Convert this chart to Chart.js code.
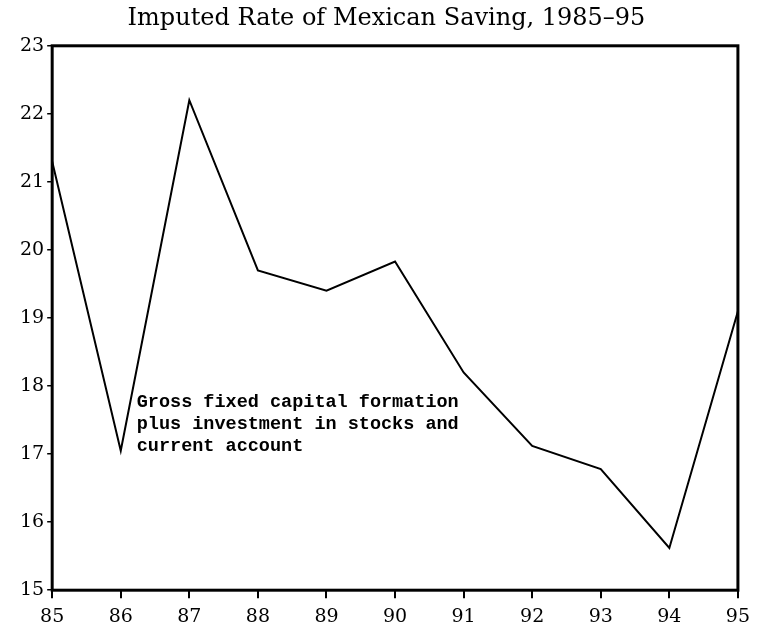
<!DOCTYPE html>
<html lang="en">
<head>
    <meta charset="UTF-8">
    <title>Imputed Rate of Mexican Saving, 1985-95</title>
    <script src="https://cdn.jsdelivr.net/npm/chart.js@4/dist/chart.umd.min.js"></script>
    <style>
        html, body { margin: 0; padding: 0; background: #fff; }
        .chart-box { width: 757px; height: 637px; position: relative; }
    </style>
</head>
<body>
    <div class="chart-box">
        <canvas id="savingChart"></canvas>
    </div>

    <script>
        // Datos
        const years = ['85', '86', '87', '88', '89', '90', '91', '92', '93', '94', '95'];
        const savingRate = [21.3, 17.05, 22.2, 19.7, 19.4, 19.83, 18.2, 17.12, 16.78, 15.62, 19.1];
        const yTicks = [15, 16, 17, 18, 19, 20, 21, 22, 23];
        const noteLines = ['Gross fixed capital formation', 'plus investment in stocks and', 'current account'];

        // Marco grueso alrededor del área del gráfico
        const frame = {
            id: 'frame',
            afterDraw(chart) {
                const { ctx, chartArea: a } = chart;
                ctx.save();
                ctx.strokeStyle = '#000';
                ctx.lineWidth = 3;
                ctx.strokeRect(a.left, a.top, a.right - a.left, a.bottom - a.top);
                ctx.restore();
            }
        };

        // Nota de texto junto al mínimo de 1986
        const note = {
            id: 'note',
            afterDraw(chart) {
                const { ctx, scales } = chart;
                const x = scales.x.getPixelForValue(1) + 16;
                const y = scales.y.getPixelForValue(17.76);
                ctx.save();
                ctx.fillStyle = '#000';
                ctx.font = 'bold 18.5px "Liberation Mono", monospace';
                ctx.textBaseline = 'middle';
                noteLines.forEach((t, i) => ctx.fillText(t, x, y + i * 22));
                ctx.restore();
            }
        };

        new Chart(document.getElementById('savingChart'), {
            type: 'line',
            data: {
                labels: years,
                datasets: [{
                    data: savingRate,
                    borderColor: '#000',
                    borderWidth: 2,
                    pointRadius: 0,
                    tension: 0,
                    fill: false
                }]
            },
            options: {
                responsive: true,
                maintainAspectRatio: false,
                animation: false,
                layout: { padding: { left: 17, right: 1, top: 0, bottom: 2 } },
                plugins: {
                    legend: { display: false },
                    tooltip: { enabled: false },
                    title: {
                        display: true,
                        text: 'Imputed Rate of Mexican Saving, 1985\u201395',
                        color: '#000',
                        font: { family: '"DejaVu Serif", serif', size: 24, weight: 'normal' },
                        padding: { top: 4, bottom: 13 }
                    }
                },
                scales: {
                    x: {
                        offset: false,
                        grid: { drawOnChartArea: false, drawTicks: true, tickLength: 8, color: '#000', lineWidth: 2 },
                        border: { display: false },
                        ticks: {
                            color: '#000',
                            padding: 7,
                            maxRotation: 0,
                            autoSkip: false,
                            font: { family: '"DejaVu Serif", serif', size: 19 }
                        }
                    },
                    y: {
                        min: 15,
                        max: 23,
                        afterBuildTicks(axis) { axis.ticks = yTicks.map(v => ({ value: v })); },
                        grid: { drawOnChartArea: false, drawTicks: true, tickLength: 5, color: '#000', lineWidth: 1.5 },
                        border: { display: false },
                        ticks: {
                            color: '#000',
                            padding: 3,
                            font: { family: '"DejaVu Serif", serif', size: 19 }
                        }
                    }
                }
            },
            plugins: [frame, note]
        });
    </script>
</body>
</html>
